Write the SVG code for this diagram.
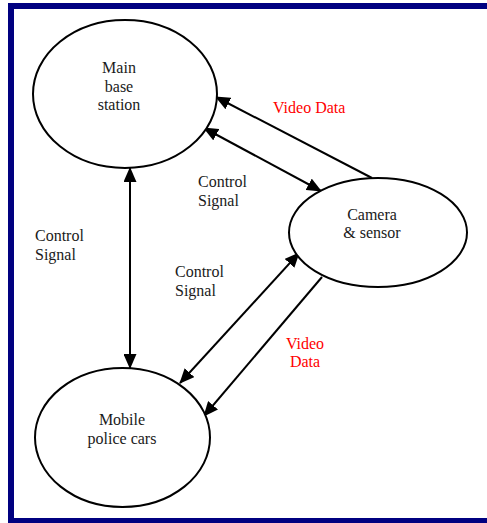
<svg xmlns="http://www.w3.org/2000/svg" width="487" height="523" viewBox="0 0 487 523">
<style>
.node{fill:#fff;stroke:#000;stroke-width:2}
.lbl{font-family:"Liberation Serif","Times New Roman",serif;font-size:16px;fill:#1a1a1a}
.red{fill:#ff0000}
.c{text-anchor:middle}
.conn{stroke:#000;stroke-width:2;fill:none}
</style>
<defs>
<marker id="ah" markerUnits="userSpaceOnUse" markerWidth="15" markerHeight="13" refX="14" refY="6.5" orient="auto-start-reverse" viewBox="0 0 15 13">
<path d="M0,0 L15,6.5 L0,13 z" fill="#000"/>
</marker>
</defs>
<rect x="0" y="0" width="487" height="523" fill="#fff"/>
<rect x="11" y="6" width="490" height="515" fill="none" stroke="#000080" stroke-width="6"/>
<g id="connectors">
<line class="conn" x1="372" y1="178" x2="216" y2="97" marker-end="url(#ah)"/>
<line class="conn" x1="204" y1="128" x2="321" y2="191" marker-start="url(#ah)" marker-end="url(#ah)"/>
<line class="conn" x1="130" y1="168" x2="130" y2="368" marker-start="url(#ah)" marker-end="url(#ah)"/>
<line class="conn" x1="299" y1="253" x2="180" y2="383" marker-start="url(#ah)" marker-end="url(#ah)"/>
<line class="conn" x1="322" y1="277" x2="204" y2="416" marker-end="url(#ah)"/>
</g>
<g id="main-base-station">
<ellipse class="node" cx="125" cy="94" rx="92" ry="74"/>
<text class="lbl c" x="119" y="73">Main</text>
<text class="lbl c" x="119" y="92">base</text>
<text class="lbl c" x="119" y="110">station</text>
</g>
<g id="camera-sensor">
<ellipse class="node" cx="378" cy="232.5" rx="89" ry="54.5"/>
<text class="lbl c" x="372" y="220">Camera</text>
<text class="lbl c" x="372" y="238">&amp; sensor</text>
</g>
<g id="mobile-police-cars">
<ellipse class="node" cx="122.5" cy="437.5" rx="87.5" ry="69.5"/>
<text class="lbl c" x="122" y="425">Mobile</text>
<text class="lbl c" x="122" y="444">police cars</text>
</g>
<g id="labels">
<text class="lbl red" x="273" y="113">Video Data</text>
<text class="lbl" x="198" y="187">Control</text>
<text class="lbl" x="198" y="206">Signal</text>
<text class="lbl" x="35" y="241">Control</text>
<text class="lbl" x="35" y="260">Signal</text>
<text class="lbl" x="175" y="277">Control</text>
<text class="lbl" x="175" y="296">Signal</text>
<text class="lbl red c" x="305" y="349">Video</text>
<text class="lbl red c" x="305" y="367">Data</text>
</g>
</svg>
